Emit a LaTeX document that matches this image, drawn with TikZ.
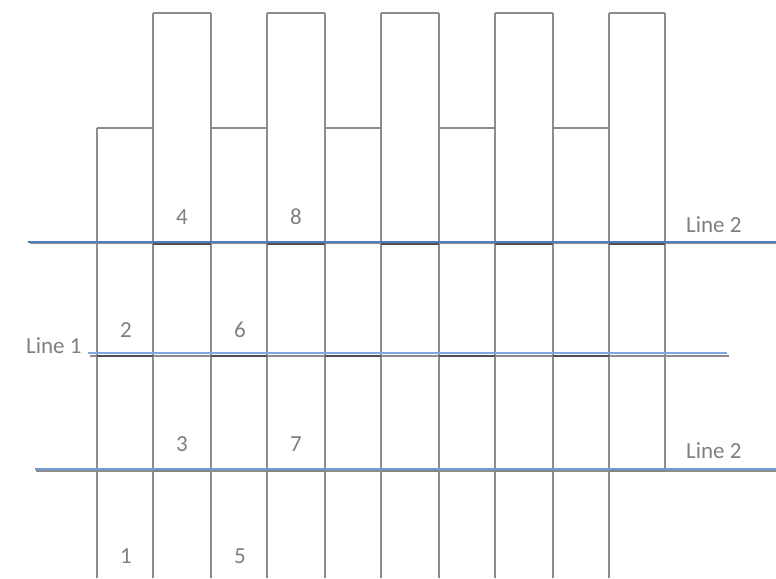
\documentclass[tikz,border=0pt]{standalone}
\usepackage{fontspec}
\setmainfont{Carlito}
\definecolor{frame}{HTML}{8C8C8C}
\definecolor{darkseg}{HTML}{505050}
\definecolor{blueA}{HTML}{4F7FC0}
\definecolor{blueB}{HTML}{7FA9DE}
\definecolor{blueC}{HTML}{6E9DD6}
\definecolor{txt}{HTML}{808080}
\begin{document}
\begin{tikzpicture}[x=1pt,y=-1pt,
  frameline/.style={draw=frame,line width=2pt},
  shadowline/.style={draw=frame,line width=1.4pt},
  segline/.style={draw=darkseg,line width=2.2pt},
  lbl/.style={text=txt,font=\fontsize{23}{26}\selectfont,anchor=base,inner sep=0pt}]
\useasboundingbox[fill=white] (0,0) rectangle (776,578);
% vertical lines
\draw[frameline] (97,578) -- (97,128);
\foreach \x in {153,211,267,325,381,439,495,553,609} \draw[frameline] (\x,578) -- (\x,13);
\draw[frameline] (665,469) -- (665,13);
% tops
\foreach \a/\b in {153/211,267/325,381/439,495/553,609/665} \draw[frameline] (\a,13) -- (\b,13);
\foreach \a/\b in {97/153,211/267,325/381,439/495,553/609} \draw[frameline] (\a,128) -- (\b,128);
% line 2 (top)
\draw[shadowline] (30,243.5) -- (776,243.5);
\foreach \a/\b in {153/211,267/325,381/439,495/553,609/665} \draw[segline] (\a,243.5) -- (\b,243.5);
\draw[blueA,line width=2pt] (28,241.8) -- (776,241.8);
% line 1
\draw[shadowline] (90,356) -- (729,356);
\foreach \a/\b in {97/153,211/267,325/381,439/495,553/609} \draw[segline] (\a,356) -- (\b,356);
\draw[blueB,line width=2pt] (88,353.3) -- (727,353.3);
% line 2 (bottom)
\draw[shadowline] (36,471) -- (776,471);
\foreach \a/\b in {153/211,267/325,381/439,495/553,609/665} \draw[draw=darkseg!70,line width=1.8pt] (\a,471) -- (\b,471);
\draw[blueC,line width=2pt] (35,468.8) -- (776,468.8);
% labels
\node[lbl,anchor=base west] (l2a) at (686,232) {Line 2};
\node[lbl,anchor=base west] (l2b) at (686,458) {Line 2};
\node[lbl,anchor=base west] (l1) at (26,353) {Line 1};
\node[lbl] (n4) at (182,224) {4};
\node[lbl] (n8) at (296,224) {8};
\node[lbl] (n2) at (126,337) {2};
\node[lbl] (n6) at (240,337) {6};
\node[lbl] (n3) at (182,451) {3};
\node[lbl] (n7) at (296,451) {7};
\node[lbl] (n1) at (126,563) {1};
\node[lbl] (n5) at (240,563) {5};
\end{tikzpicture}
\end{document}
